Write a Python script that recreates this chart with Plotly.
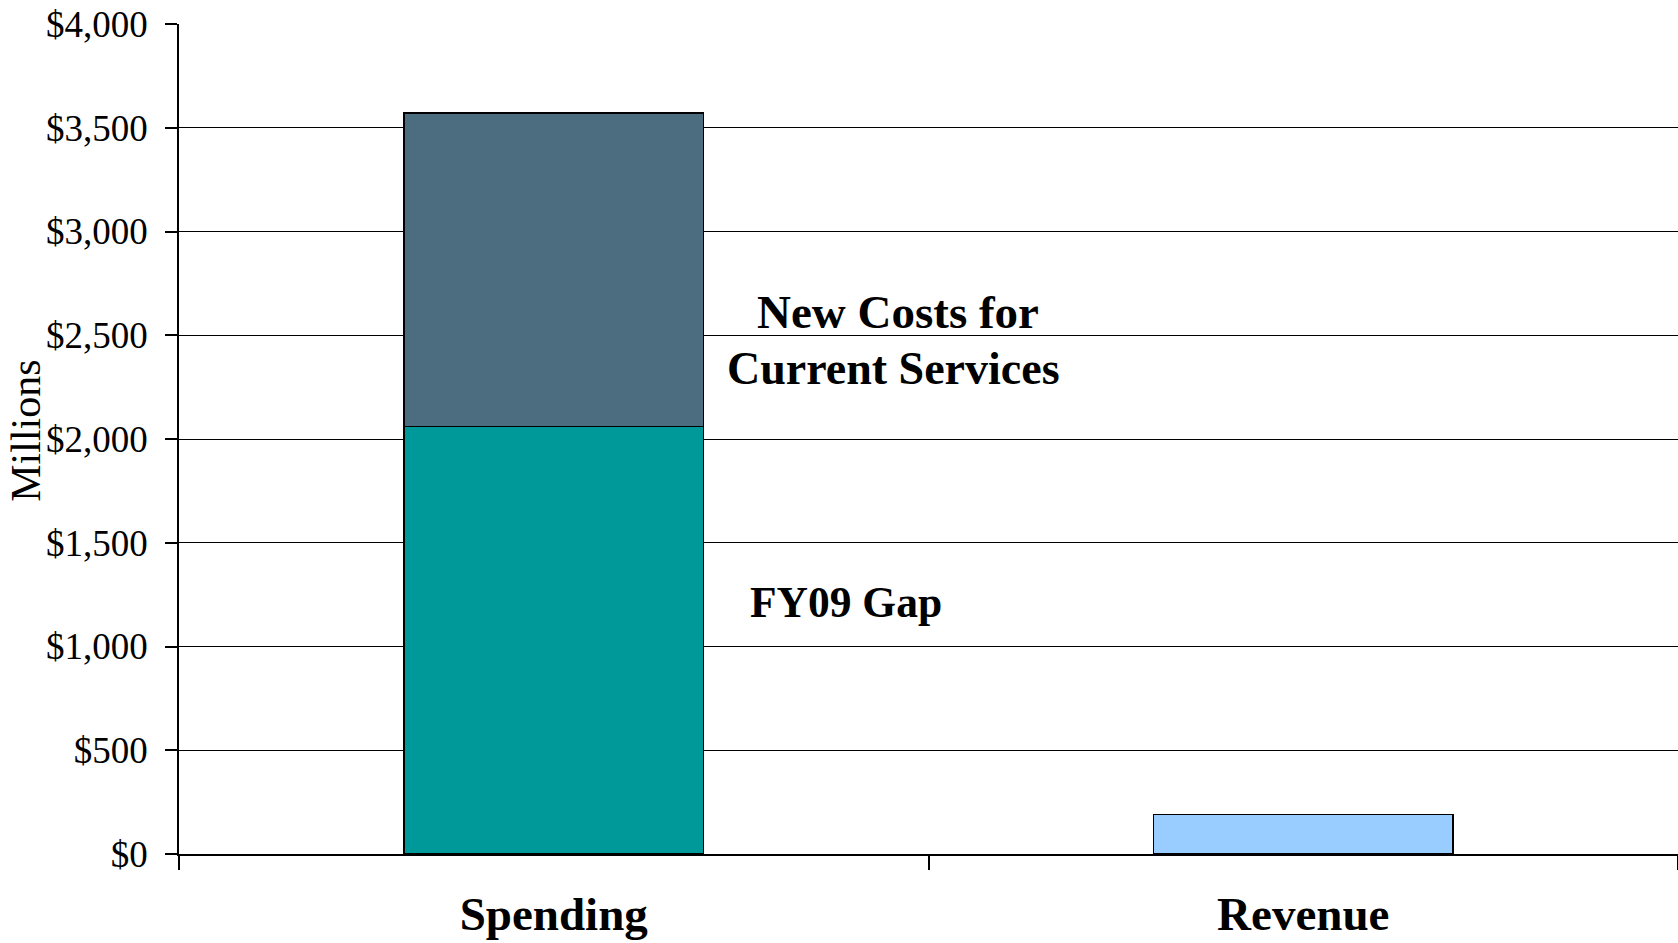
import plotly.graph_objects as go

categories = ["Spending", "Revenue"]
fy09_gap = [2060, None]
new_costs = [1510, None]
revenue = [None, 190]
y_ticks = [0, 500, 1000, 1500, 2000, 2500, 3000, 3500, 4000]
y_tick_labels = ["$0", "$500", "$1,000", "$1,500", "$2,000", "$2,500", "$3,000", "$3,500", "$4,000"]

SERIF = "Palatino Linotype, Book Antiqua, Palatino, Liberation Serif, serif"
line = dict(color="black", width=1.5)

fig = go.Figure()
fig.add_trace(go.Bar(x=categories, y=fy09_gap, name="FY09 Gap",
                     marker=dict(color="#009999", line=line)))
fig.add_trace(go.Bar(x=categories, y=new_costs, name="New Costs for Current Services",
                     marker=dict(color="#4C6C80", line=line)))
fig.add_trace(go.Bar(x=categories, y=revenue, name="Revenue",
                     marker=dict(color="#99CCFF", line=line)))

fig.update_layout(
    template="none",
    width=1678, height=943,
    margin=dict(l=179, r=0, t=24, b=89, autoexpand=False),
    barmode="stack", bargap=0.6,
    showlegend=False,
    plot_bgcolor="white", paper_bgcolor="white",
    font=dict(family=SERIF, color="black"),
    xaxis=dict(
        type="category", automargin=False, showline=True, linecolor="black", linewidth=1.5,
        ticks="outside", tickson="boundaries", ticklen=14, tickwidth=1.5, tickcolor="black",
        ticklabelstandoff=18,
        tickfont=dict(family=SERIF, size=47, color="black", weight="bold"),
        showgrid=False, zeroline=False,
    ),
    yaxis=dict(
        range=[0, 4000], automargin=False, tickmode="array", tickvals=y_ticks, ticktext=y_tick_labels,
        showline=True, linecolor="black", linewidth=1.5,
        ticks="outside", ticklen=12, tickwidth=1.5, tickcolor="black",
        ticklabelstandoff=10,
        tickfont=dict(family=SERIF, size=37, color="black"),
        showgrid=True, gridcolor="black", gridwidth=1.2,
        zeroline=False,
    ),
    annotations=[
        dict(text="Millions", textangle=-90, xref="paper", yref="paper",
             x=-0.102, y=0.51, xanchor="center", yanchor="middle", showarrow=False,
             font=dict(family=SERIF, size=42, color="black")),
        dict(text="<b>New Costs for</b>", xref="paper", yref="y",
             x=0.4797, y=2612, xanchor="center", yanchor="middle", showarrow=False,
             font=dict(family=SERIF, size=47, color="black")),
        dict(text="<b>Current Services</b>", xref="paper", yref="y",
             x=0.4764, y=2342, xanchor="center", yanchor="middle", showarrow=False,
             font=dict(family=SERIF, size=46, color="black")),
        dict(text="<b>FY09 Gap</b>", xref="paper", yref="y",
             x=0.445, y=1213, xanchor="center", yanchor="middle", showarrow=False,
             font=dict(family=SERIF, size=43.5, color="black")),
    ],
)

fig.write_html(
    "out.html",
    config={"displayModeBar": False},
    post_script="document.body.style.margin='0';document.body.style.padding='0';"
                "document.documentElement.style.overflow='hidden';",
)
